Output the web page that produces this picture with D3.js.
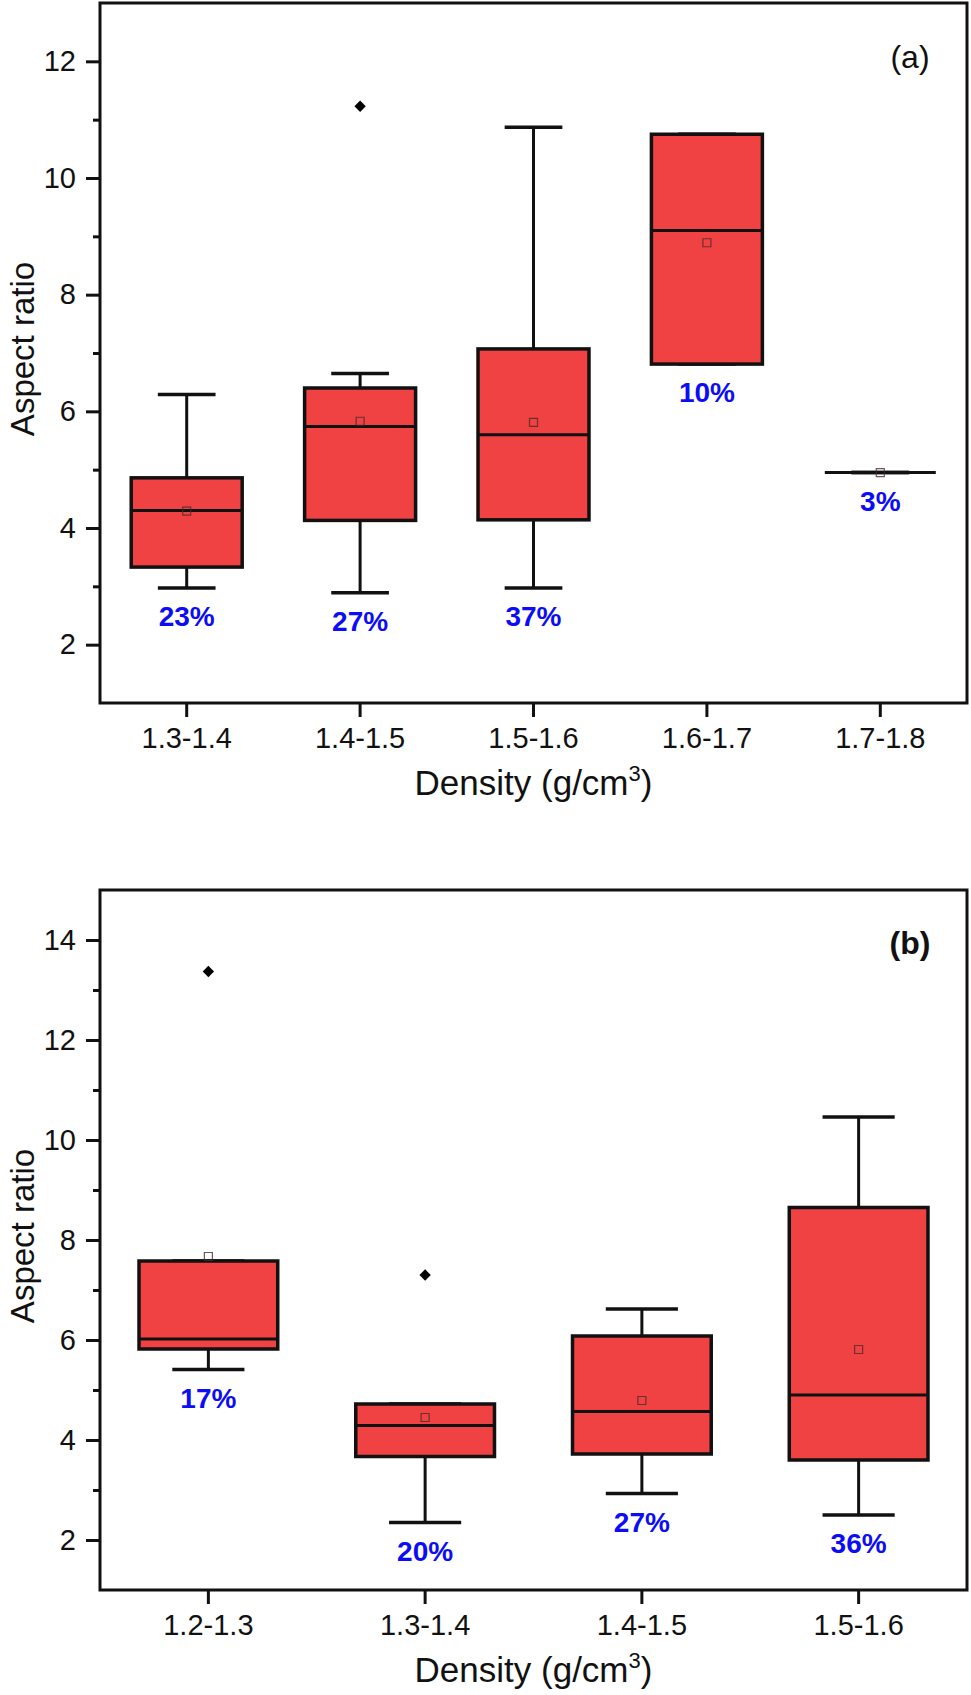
<!DOCTYPE html>
<html>
<head>
<meta charset="utf-8">
<script src="https://cdn.jsdelivr.net/npm/d3@7"></script>
<style>
  html, body { margin: 0; padding: 0; background: #fff; }
  svg { display: block; }
  svg text { font-family: Arial, "Liberation Sans", Helvetica, sans-serif; }
</style>
</head>
<body>
<svg id="chart" width="971" height="1695"></svg>
<script>
// ---------- Panel (a) data ----------
const catsA = ["1.3-1.4", "1.4-1.5", "1.5-1.6", "1.6-1.7", "1.7-1.8"];
const minA  = [2.97, 2.89, 2.97, 6.81, 4.95];
const q1A   = [3.33, 4.13, 4.14, 6.81, 4.95];
const medA  = [4.30, 5.74, 5.60, 9.10, 4.95];
const q3A   = [4.86, 6.40, 7.07, 10.75, 4.95];
const maxA  = [6.29, 6.65, 10.87, 10.75, 4.95];
const meanA = [4.29, 5.83, 5.81, 8.89, 4.95];
const outA  = [[], [11.23], [], [], []];
const pctA  = ["23%", "27%", "37%", "10%", "3%"];
const yTicksA = [2, 4, 6, 8, 10, 12];
const yMinorA = [3, 5, 7, 9, 11];

// ---------- Panel (b) data ----------
const catsB = ["1.2-1.3", "1.3-1.4", "1.4-1.5", "1.5-1.6"];
const minB  = [5.41, 2.35, 2.93, 2.50];
const q1B   = [5.82, 3.67, 3.72, 3.60];
const medB  = [6.02, 4.29, 4.57, 4.90];
const q3B   = [7.58, 4.72, 6.08, 8.65];
const maxB  = [7.58, 4.72, 6.62, 10.46];
const meanB = [7.67, 4.45, 4.79, 5.81];
const outB  = [[13.37], [7.30], [], []];
const pctB  = ["17%", "20%", "27%", "36%"];
const yTicksB = [2, 4, 6, 8, 10, 12, 14];
const yMinorB = [3, 5, 7, 9, 11, 13];

const svg = d3.select("#chart");
const FILL = "#F04242";
const FONT = 'Arial, "Liberation Sans", Helvetica, sans-serif';

function panel(opts) {
  const { top, cats, mins, q1s, meds, q3s, maxs, means, outs, pcts,
          yDomain, yTicks, yMinor, tag, tagBold } = opts;
  const left = 100, W = 867, H = 700;
  const g = svg.append("g").attr("transform", `translate(${left},${top})`);

  const x = d3.scaleBand().domain(cats).range([0, W]).paddingInner(0).paddingOuter(0);
  const y = d3.scaleLinear().domain(yDomain).range([H, 0]);

  const boxW = x.bandwidth() * 0.64;
  const capW = boxW * 0.52;

  const data = cats.map((c, i) => ({
    c, min: mins[i], q1: q1s[i], med: meds[i], q3: q3s[i], max: maxs[i],
    mean: means[i], outs: outs[i], pct: pcts[i]
  }));

  const cx = d => x(d.c) + x.bandwidth() / 2;

  const grp = g.selectAll(".bx").data(data).enter().append("g").attr("class", "bx");

  grp.append("line")
    .attr("x1", cx).attr("x2", cx)
    .attr("y1", d => y(d.max)).attr("y2", d => y(d.q3))
    .attr("stroke", "#111").attr("stroke-width", 3);
  grp.append("line")
    .attr("x1", cx).attr("x2", cx)
    .attr("y1", d => y(d.q1)).attr("y2", d => y(d.min))
    .attr("stroke", "#111").attr("stroke-width", 3);
  grp.append("line")
    .attr("x1", d => cx(d) - capW / 2).attr("x2", d => cx(d) + capW / 2)
    .attr("y1", d => y(d.max)).attr("y2", d => y(d.max))
    .attr("stroke", "#111").attr("stroke-width", 3.5);
  grp.append("line")
    .attr("x1", d => cx(d) - capW / 2).attr("x2", d => cx(d) + capW / 2)
    .attr("y1", d => y(d.min)).attr("y2", d => y(d.min))
    .attr("stroke", "#111").attr("stroke-width", 3.5);
  grp.append("rect")
    .attr("x", d => cx(d) - boxW / 2)
    .attr("width", boxW)
    .attr("y", d => y(d.q3))
    .attr("height", d => y(d.q1) - y(d.q3))
    .attr("fill", FILL)
    .attr("stroke", "#111").attr("stroke-width", 3.5);
  grp.append("line")
    .attr("x1", d => cx(d) - boxW / 2).attr("x2", d => cx(d) + boxW / 2)
    .attr("y1", d => y(d.med)).attr("y2", d => y(d.med))
    .attr("stroke", "#111").attr("stroke-width", 3);
  grp.append("path")
    .attr("d", d3.symbol(d3.symbolSquare, 64))
    .attr("transform", d => `translate(${cx(d)},${y(d.mean)})`)
    .attr("fill", "none")
    .attr("stroke", "#4a2a2a").attr("stroke-opacity", 0.8).attr("stroke-width", 1.2);
  grp.each(function (d) {
    d3.select(this).selectAll(".out").data(d.outs).enter().append("path")
      .attr("class", "out")
      .attr("d", d3.symbol(d3.symbolSquare, 64))
      .attr("transform", v => `translate(${cx(d)},${y(v)}) rotate(45)`)
      .attr("fill", "#000");
  });
  grp.append("text")
    .attr("x", cx)
    .attr("y", d => y(d.min) + 38)
    .attr("text-anchor", "middle")
    .attr("font-size", 28)
    .attr("font-weight", "bold")
    .attr("fill", "#0c0cf5")
    .text(d => d.pct);

  const yAxis = d3.axisLeft(y).tickValues(yTicks).tickSize(14).tickSizeOuter(0).tickPadding(10);
  const yAx = g.append("g").call(yAxis).attr("font-family", FONT);
  yAx.select(".domain").remove();
  yAx.selectAll("line").attr("stroke", "#111").attr("stroke-width", 3);
  yAx.selectAll("text").attr("font-size", 29).attr("fill", "#111");

  const yMin = d3.axisLeft(y).tickValues(yMinor).tickSize(7).tickSizeOuter(0).tickFormat("");
  const yMn = g.append("g").call(yMin);
  yMn.select(".domain").remove();
  yMn.selectAll("line").attr("stroke", "#111").attr("stroke-width", 3);

  const xAxis = d3.axisBottom(x).tickSize(14).tickSizeOuter(0).tickPadding(10);
  const xAx = g.append("g").attr("transform", `translate(0,${H})`).call(xAxis).attr("font-family", FONT);
  xAx.select(".domain").remove();
  xAx.selectAll("line").attr("stroke", "#111").attr("stroke-width", 3);
  xAx.selectAll("text").attr("font-size", 29).attr("fill", "#111");

  g.append("rect").attr("x", 0).attr("y", 0).attr("width", W).attr("height", H)
    .attr("fill", "none").attr("stroke", "#111").attr("stroke-width", 3);

  g.append("text")
    .attr("x", W - 57).attr("y", tagBold ? 64 : 65)
    .attr("text-anchor", "middle")
    .attr("font-size", 32)
    .attr("font-weight", tagBold ? "bold" : "normal")
    .attr("fill", "#111")
    .text(tag);

  const xt = g.append("text")
    .attr("x", W / 2).attr("y", H + 92)
    .attr("text-anchor", "middle")
    .attr("font-size", 35)
    .attr("fill", "#111");
  xt.append("tspan").text("Density (g/cm");
  xt.append("tspan").attr("font-size", 22).attr("dy", -14).text("3");
  xt.append("tspan").attr("dy", 14).text(")");

  g.append("text")
    .attr("transform", `translate(${-66},${H / 2 - 4}) rotate(-90)`)
    .attr("text-anchor", "middle")
    .attr("font-size", 33)
    .attr("fill", "#111")
    .text("Aspect ratio");
}

panel({
  top: 3, cats: catsA, mins: minA, q1s: q1A, meds: medA, q3s: q3A, maxs: maxA,
  means: meanA, outs: outA, pcts: pctA, yDomain: [1, 13],
  yTicks: yTicksA, yMinor: yMinorA, tag: "(a)", tagBold: false
});
panel({
  top: 890, cats: catsB, mins: minB, q1s: q1B, meds: medB, q3s: q3B, maxs: maxB,
  means: meanB, outs: outB, pcts: pctB, yDomain: [1, 15],
  yTicks: yTicksB, yMinor: yMinorB, tag: "(b)", tagBold: true
});
</script>
</body>
</html>
